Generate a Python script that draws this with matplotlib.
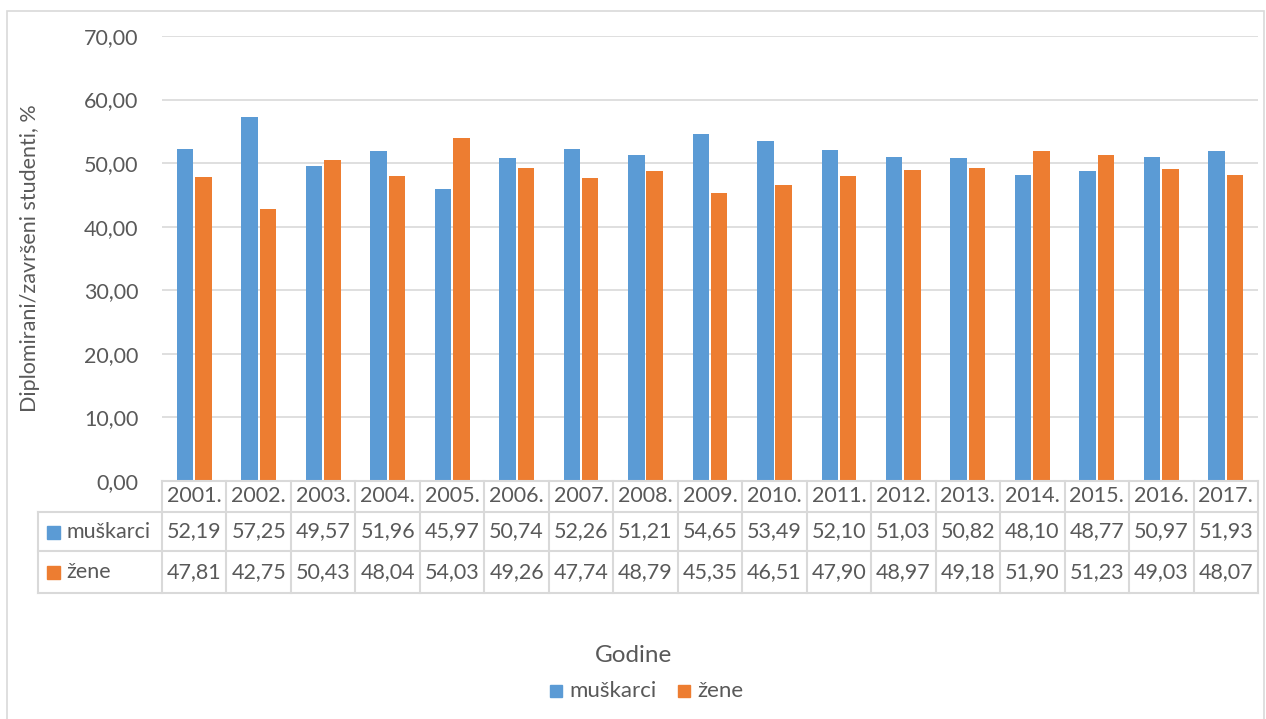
import matplotlib.pyplot as plt
from matplotlib.patches import Rectangle
from matplotlib.lines import Line2D

years = ['2001.', '2002.', '2003.', '2004.', '2005.', '2006.', '2007.', '2008.', '2009.',
         '2010.', '2011.', '2012.', '2013.', '2014.', '2015.', '2016.', '2017.']
muskarci = [52.19, 57.25, 49.57, 51.96, 45.97, 50.74, 52.26, 51.21, 54.65,
            53.49, 52.10, 51.03, 50.82, 48.10, 48.77, 50.97, 51.93]
zene = [47.81, 42.75, 50.43, 48.04, 54.03, 49.26, 47.74, 48.79, 45.35,
        46.51, 47.90, 48.97, 49.18, 51.90, 51.23, 49.03, 48.07]
series_names = ['muškarci', 'žene']
colors = ['#5B9BD5', '#ED7D31']
yticks = [0, 10, 20, 30, 40, 50, 60, 70]

W, H = 1266, 719
plt.rcParams['font.family'] = ['Lato', 'DejaVu Sans']
TXT = '#595959'
GRID = '#D9D9D9'
FS = 15.5

fig = plt.figure(figsize=(W / 100, H / 100), dpi=100)

def fx(px):
    return px / W

def fy(py):
    return 1 - py / H

x0, x1 = 162, 1258
ytop, ybot = 36, 481
ax = fig.add_axes([fx(x0), fy(ybot), fx(x1) - fx(x0), fy(ytop) - fy(ybot)])

n = len(years)
bw = 0.255
xs = list(range(n))
ax.bar([x - bw / 2 - 0.015 for x in xs], muskarci, width=bw, color=colors[0], zorder=3)
ax.bar([x + bw / 2 + 0.015 for x in xs], zene, width=bw, color=colors[1], zorder=3)
ax.set_xlim(-0.5, n - 0.5)
ax.set_ylim(0, 70)
ax.set_yticks(yticks)
ax.set_yticklabels([f'{v:.2f}'.replace('.', ',') for v in yticks], fontsize=FS, color=TXT)
ax.tick_params(axis='y', length=0, pad=17)
ax.set_xticks([])
ax.grid(axis='y', color=GRID, linewidth=1.2, zorder=0)
for s in ax.spines.values():
    s.set_visible(False)

# chart border
fig.add_artist(Rectangle((fx(7), fy(1000)), fx(1264) - fx(7), fy(11) - fy(1000),
                         transform=fig.transFigure, fill=False, edgecolor=GRID, linewidth=1.2))

# data table
def hline(xa, xb, y):
    fig.add_artist(Line2D([fx(xa), fx(xb)], [fy(y), fy(y)], transform=fig.transFigure,
                          color=GRID, linewidth=1.5))

def vline(x, ya, yb):
    fig.add_artist(Line2D([fx(x), fx(x)], [fy(ya), fy(yb)], transform=fig.transFigure,
                          color=GRID, linewidth=1.5))

rows = [481, 512, 551, 593]
hline(x0, x1, rows[0])
for r in rows[1:]:
    hline(38, x1, r)
vline(38, rows[1], rows[3])
cw = (x1 - x0) / n
for i in range(n + 1):
    vline(x0 + i * cw, rows[0], rows[3])

for i, yr in enumerate(years):
    cx = x0 + (i + 0.5) * cw
    fig.text(fx(cx), fy((rows[0] + rows[1]) / 2), yr, ha='center', va='center', fontsize=FS, color=TXT)
    fig.text(fx(cx), fy((rows[1] + rows[2]) / 2), f'{muskarci[i]:.2f}'.replace('.', ','),
             ha='center', va='center', fontsize=FS, color=TXT)
    fig.text(fx(cx), fy((rows[2] + rows[3]) / 2), f'{zene[i]:.2f}'.replace('.', ','),
             ha='center', va='center', fontsize=FS, color=TXT)

for k, name in enumerate(series_names):
    cy = (rows[1 + k] + rows[2 + k]) / 2
    fig.add_artist(Rectangle((fx(47), fy(cy + 7)), fx(13), fx(13) * W / H,
                             transform=fig.transFigure, color=colors[k]))
    fig.text(fx(66), fy(cy), name, ha='left', va='center', fontsize=FS, color=TXT)

# axis titles
fig.text(fx(30), fy((ytop + ybot) / 2), 'Diplomirani/završeni studenti, %', rotation=90,
         ha='center', va='center', fontsize=FS, color=TXT)
fig.text(fx(634), fy(656), 'Godine', ha='center', va='center', fontsize=17.5, color=TXT)

# legend
leg_y = 691
fig.add_artist(Rectangle((fx(550), fy(leg_y + 6)), fx(12), fx(12) * W / H,
                         transform=fig.transFigure, color=colors[0]))
fig.text(fx(569), fy(leg_y), series_names[0], ha='left', va='center', fontsize=16, color=TXT)
fig.add_artist(Rectangle((fx(678), fy(leg_y + 6)), fx(12), fx(12) * W / H,
                         transform=fig.transFigure, color=colors[1]))
fig.text(fx(697), fy(leg_y), series_names[1], ha='left', va='center', fontsize=16, color=TXT)

fig.savefig('out.png', dpi=100)
